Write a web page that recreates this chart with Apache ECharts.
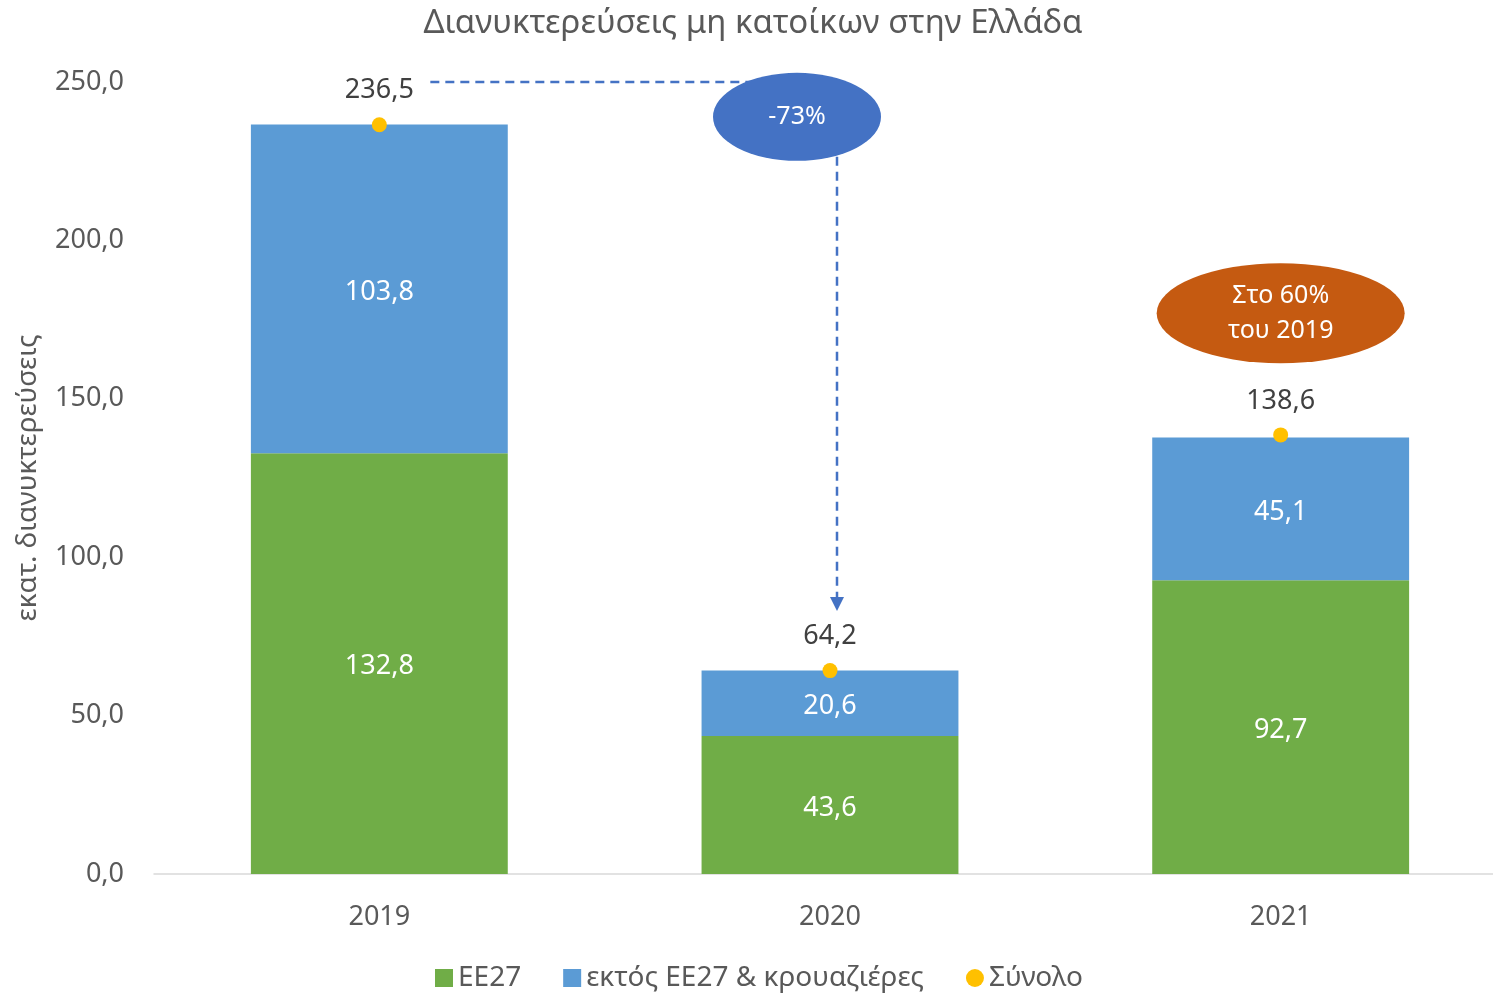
<!DOCTYPE html>
<html>
<head>
<meta charset="utf-8">
<script src="https://cdn.jsdelivr.net/npm/echarts@6/dist/echarts.min.js"></script>
<style>
  html, body { margin: 0; padding: 0; background: #fff; overflow: hidden; }
  /* a little wider than the window: the plot area runs past the right edge, like the source */
  #chart { width: 1506px; height: 994px; }
</style>
</head>
<body>
<div id="chart"></div>
<script>
const years = ['2019', '2020', '2021']
const eu27 = [132.8, 43.6, 92.7]
const nonEu = [103.8, 20.6, 45.1]
const total = [236.5, 64.2, 138.6]
const yTicks = [0, 50, 100, 150, 200, 250]

const font = '"Noto Sans", "Open Sans", sans-serif'
const fmt = v => v.toFixed(1).replace('.', ',')

const chart = echarts.init(document.getElementById('chart'))

chart.setOption({
  animation: false,
  textStyle: { fontFamily: font },
  title: {
    text: 'Διανυκτερεύσεις μη κατοίκων στην Ελλάδα',
    left: 'center',
    top: 2,
    textStyle: { fontFamily: font, fontSize: 33, fontWeight: 'normal', color: '#595959' }
  },
  grid: { left: 154, right: 0, top: 82, bottom: 120 },
  legend: {
    bottom: -3,
    left: 430,
    itemWidth: 18,
    itemHeight: 18,
    itemGap: 42,
    textStyle: { fontFamily: font, fontSize: 28, color: '#595959' },
    data: [
      { name: 'ΕΕ27', icon: 'rect' },
      { name: 'εκτός ΕΕ27 & κρουαζιέρες', icon: 'rect' },
      { name: 'Σύνολο', icon: 'circle' }
    ]
  },
  xAxis: {
    type: 'category',
    data: years,
    axisLine: { lineStyle: { color: '#d9d9d9', width: 1.5 } },
    axisTick: { show: false },
    axisLabel: { fontSize: 27, color: '#595959', margin: 30 }
  },
  yAxis: {
    type: 'value',
    min: yTicks[0],
    max: yTicks[yTicks.length - 1],
    interval: 50,
    name: 'εκατ. διανυκτερεύσεις',
    nameLocation: 'middle',
    nameGap: 112,
    nameTextStyle: { fontSize: 28, color: '#595959' },
    splitLine: { show: false },
    axisLine: { show: false },
    axisLabel: { fontSize: 27, color: '#595959', margin: 30, padding: [4, 0, 0, 0], formatter: v => fmt(v) }
  },
  series: [{
    name: 'ΕΕ27',
    type: 'bar',
    stack: 'a',
    barWidth: '57%',
    data: eu27,
    itemStyle: { color: '#70AD47' },
    label: { show: true, position: 'inside', offset: [0, 3], color: '#fff', fontSize: 27, formatter: p => fmt(p.value) }
  }, {
    name: 'εκτός ΕΕ27 & κρουαζιέρες',
    type: 'bar',
    stack: 'a',
    data: nonEu,
    itemStyle: { color: '#5B9BD5' },
    label: { show: true, position: 'inside', offset: [0, 3], color: '#fff', fontSize: 27, formatter: p => fmt(p.value) }
  }, {
    name: 'Σύνολο',
    type: 'line',
    data: total,
    symbol: 'circle',
    symbolSize: 15,
    lineStyle: { width: 0 },
    itemStyle: { color: '#FFC000' },
    label: { show: true, position: 'top', distance: 13, color: '#404040', fontSize: 27, formatter: p => fmt(p.value) },
    z: 5
  }]
})

// annotations positioned through the chart's own scales
const px = (x, y) => chart.convertToPixel({ gridIndex: 0 }, [x, y])
const top250 = px(0, 250)
const p19 = px(0, total[0])
const p20 = px(1, total[1])
const p21 = px(2, total[2])
const blue = [p20[0] - 33, px(1, 239)[1]]
const orange = [p21[0], px(2, 177)[1]]
const arrowTip = px(1, 83)[1]
const dash = { stroke: '#4472C4', lineWidth: 2.5, lineDash: [9, 6] }

chart.setOption({
  graphic: [
    { type: 'line', shape: { x1: p19[0] + 51, y1: top250[1], x2: blue[0] - 40, y2: top250[1] }, style: dash, z: 1 },
    { type: 'line', shape: { x1: p20[0] + 7, y1: blue[1] + 40, x2: p20[0] + 7, y2: arrowTip - 12 }, style: dash, z: 1 },
    { type: 'polygon', shape: { points: [[p20[0], arrowTip - 14], [p20[0] + 14, arrowTip - 14], [p20[0] + 7, arrowTip]] }, style: { fill: '#4472C4' } },
    { type: 'circle', x: blue[0], y: blue[1], scaleX: 84 / 44, shape: { cx: 0, cy: 0, r: 44 }, style: { fill: '#4472C4' }, z: 10 },
    { type: 'text', x: blue[0], y: blue[1], style: { text: '-73%', fill: '#fff', font: '25px ' + font, align: 'center', verticalAlign: 'middle' }, z: 11 },
    { type: 'circle', x: orange[0], y: orange[1], scaleX: 124 / 50, shape: { cx: 0, cy: 0, r: 50 }, style: { fill: '#C55A11' }, z: 10 },
    { type: 'text', x: orange[0], y: orange[1], style: { text: 'Στο 60%\nτου 2019', fill: '#fff', font: '25px ' + font, align: 'center', verticalAlign: 'middle', lineHeight: 35 }, z: 11 }
  ]
})
</script>
</body>
</html>
